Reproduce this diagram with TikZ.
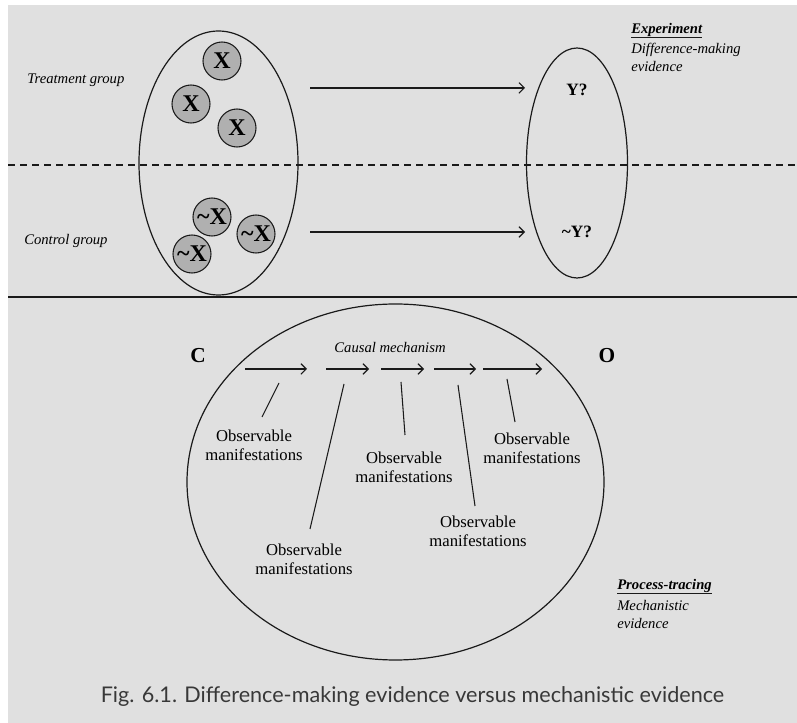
\documentclass[tikz,border=0pt]{standalone}
\usepackage{fontspec}
\setmainfont{Liberation Serif}
\newfontfamily\capfont{Lato}
\usetikzlibrary{arrows.meta,shapes.geometric}
\definecolor{bg}{HTML}{E0E0E0}
\definecolor{ball}{HTML}{B0B0B0}
\definecolor{ink}{HTML}{1A1A1A}
\definecolor{captxt}{HTML}{383838}
\begin{document}
\begin{tikzpicture}[x=0.75pt,y=-0.75pt,
  unit/.style={circle,draw=ink,line width=0.8pt,fill=ball,minimum size=28.5pt,
    inner sep=0pt,font=\fontsize{18}{18}\selectfont\bfseries},
  grp/.style={ellipse,draw=ink,line width=0.9pt,inner sep=0pt},
  arr/.style={draw=ink,line width=0.8pt,-{Straight Barb[length=4pt,width=8pt,line width=0.8pt]}},
  tick/.style={draw=ink,line width=0.8pt},
  obs/.style={align=center,inner sep=0pt,font=\fontsize{12.5}{14.5}\selectfont},
  lab/.style={inner sep=0pt,align=left,font=\fontsize{11}{13.5}\selectfont\itshape},
  big/.style={inner sep=0pt,font=\fontsize{16}{16}\selectfont\bfseries},
  outc/.style={inner sep=0pt,font=\fontsize{13}{13}\selectfont\bfseries},
  uline/.style={draw=ink,line width=0.8pt},
]
\useasboundingbox (0,0) rectangle (797,723);
\fill[bg] (8,5) rectangle (797,723);

% panel separators
\draw[ink,line width=0.8pt,dash pattern=on 5.5pt off 3.5pt] (8,165) -- (797,165);
\draw[ink,line width=1.4pt] (8,297) -- (797,297);

% ---- experiment ----
\node[grp,minimum width=119.25pt,minimum height=198pt] (pop) at (218.5,163) {};
\node[grp,minimum width=75.75pt,minimum height=172.5pt] (res) at (577,163) {};

\node[unit] (x1) at (222,61) {X};
\node[unit] (x2) at (191,104) {X};
\node[unit] (x3) at (237,128) {X};
\node[unit] (n1) at (212,217) {\textasciitilde X};
\node[unit] (n2) at (256,234) {\textasciitilde X};
\node[unit] (n3) at (192,254) {\textasciitilde X};

\node[lab,anchor=base west] (tg) at (27,84) {Treatment group};
\node[lab,anchor=base west] (cg) at (24,245) {Control group};

\node[outc] (y) at (577,90) {Y?};
\node[outc] (ny) at (577,232) {\textasciitilde Y?};

\coordinate (ta) at (310,88);
\coordinate (tb) at (525,88);
\coordinate (ca) at (310,232);
\coordinate (cb) at (525,232);
\draw[arr] (ta) -- (tb);
\draw[arr] (ca) -- (cb);

\node[lab,anchor=base west,font=\fontsize{11}{13.5}\selectfont\itshape\bfseries] (exp) at (631,34) {Experiment};
\draw[uline] ([yshift=-2.4pt]exp.base west) -- ([yshift=-2.4pt]exp.base east);
\node[lab,anchor=north west] (dme) at (631,43) {Difference-making\\evidence};

% ---- process tracing ----
\node[grp,minimum width=312.75pt,minimum height=267pt] (mech) at (395.5,482) {};
\node[big] (c) at (198,356) {C};
\node[big] (o) at (607,356) {O};
\node[lab] (cm) at (390,348) {Causal mechanism};

\coordinate (s0) at (245,369);
\coordinate (e0) at (307,369);
\coordinate (s1) at (326,369);
\coordinate (e1) at (369,369);
\coordinate (s2) at (381,369);
\coordinate (e2) at (424,369);
\coordinate (s3) at (434,369);
\coordinate (e3) at (476,369);
\coordinate (s4) at (483,369);
\coordinate (e4) at (542,369);
\foreach \i in {0,...,4} \draw[arr] (s\i) -- (e\i);

\node[obs] (o1) at (254,445) {Observable\\manifestations};
\node[obs] (o2) at (304,559) {Observable\\manifestations};
\node[obs] (o3) at (404,467) {Observable\\manifestations};
\node[obs] (o4) at (478,531) {Observable\\manifestations};
\node[obs] (o5) at (532,448) {Observable\\manifestations};

\coordinate (p1) at (279,383); \coordinate (q1) at (262,417);
\coordinate (p2) at (344,384); \coordinate (q2) at (310,529);
\coordinate (p3) at (401,382); \coordinate (q3) at (405,435);
\coordinate (p4) at (458,385); \coordinate (q4) at (475,506);
\coordinate (p5) at (507,379); \coordinate (q5) at (515,422);
\foreach \i in {1,...,5} \draw[tick] (p\i) -- (q\i);

\node[lab,anchor=base west,font=\fontsize{11}{13.5}\selectfont\itshape\bfseries] (pt) at (617,590) {Process-tracing};
\draw[uline] ([yshift=-2.4pt]pt.base west) -- ([yshift=-2.4pt]pt.base east);
\node[lab,anchor=north west] (me) at (617,600) {Mechanistic\\evidence};

% caption
\node[inner sep=0pt,text=captxt,font=\capfont\fontsize{16.2}{16}\selectfont] (cap) at (412.5,697)
  {Fig. 6.1. Difference-making evidence versus mechanistic evidence};
\end{tikzpicture}
\end{document}
